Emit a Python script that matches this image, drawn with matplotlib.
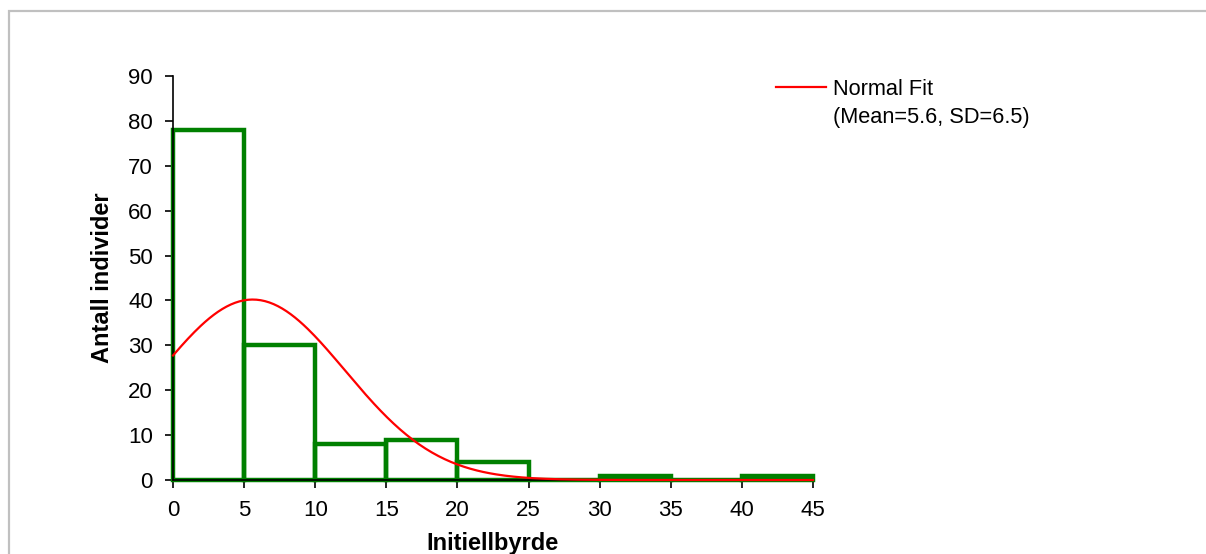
import numpy as np
import matplotlib.pyplot as plt
from matplotlib.lines import Line2D
from matplotlib.patches import Rectangle

# data
bin_edges = [0, 5, 10, 15, 20, 25, 30, 35, 40]
counts = [78, 30, 8, 9, 4, 0, 1, 0, 1]
bin_width = 5
fit_mean = 5.6
fit_sd = 6.5

plt.rcParams['font.family'] = ['Liberation Sans', 'DejaVu Sans']

fig = plt.figure(figsize=(12.06, 5.54), dpi=100)
ax = fig.add_axes([173 / 1206, 74 / 554, 640 / 1206, 404 / 554])

# histogram outline
ax.bar(bin_edges, counts, width=bin_width, align='edge', fill=False,
       edgecolor='#008000', linewidth=3.2, clip_on=False, zorder=2)

# normal fit scaled to counts
n_total = sum(counts)
xs = np.linspace(0, 45, 300)
ys = n_total * bin_width / (fit_sd * np.sqrt(2 * np.pi)) * np.exp(-0.5 * ((xs - fit_mean) / fit_sd) ** 2)
ax.plot(xs, ys, color='#ff0000', linewidth=1.6, clip_on=False, zorder=4)

ax.set_xlim(0, 45)
ax.set_ylim(0, 90)
ax.set_xticks(range(0, 46, 5))
ax.set_yticks(range(0, 91, 10))
for s in ['top', 'right']:
    ax.spines[s].set_visible(False)
for s in ['left', 'bottom']:
    ax.spines[s].set_linewidth(1.2)
ax.tick_params(axis='both', labelsize=16, length=5.5, width=1.2)
ax.tick_params(axis='y', pad=9)
ax.tick_params(axis='x', pad=9)

ax.set_xlabel('Initiellbyrde', fontsize=17, fontweight='bold', labelpad=8)
ax.set_ylabel('Antall individer', fontsize=17, fontweight='bold', labelpad=10)

# legend
handles = [Line2D([], [], color='#ff0000', linewidth=1.6),
           Line2D([], [], color='none')]
labels = ['Normal Fit', '(Mean=5.6, SD=6.5)']
fig.legend(handles, labels, loc='upper left',
           bbox_to_anchor=(776 / 1206, 1 - 79 / 554),
           frameon=False, fontsize=15.7, handlelength=2.3, handletextpad=0.32,
           borderpad=0, borderaxespad=0, labelspacing=0.33)

# outer border
fig.patches.append(Rectangle((8.5 / 1206, -0.1), 1.2, 1.1 - 10.5 / 554,
                             transform=fig.transFigure, fill=False,
                             edgecolor='#c0c0c0', linewidth=1.6))

fig.savefig('out.png', dpi=100)
